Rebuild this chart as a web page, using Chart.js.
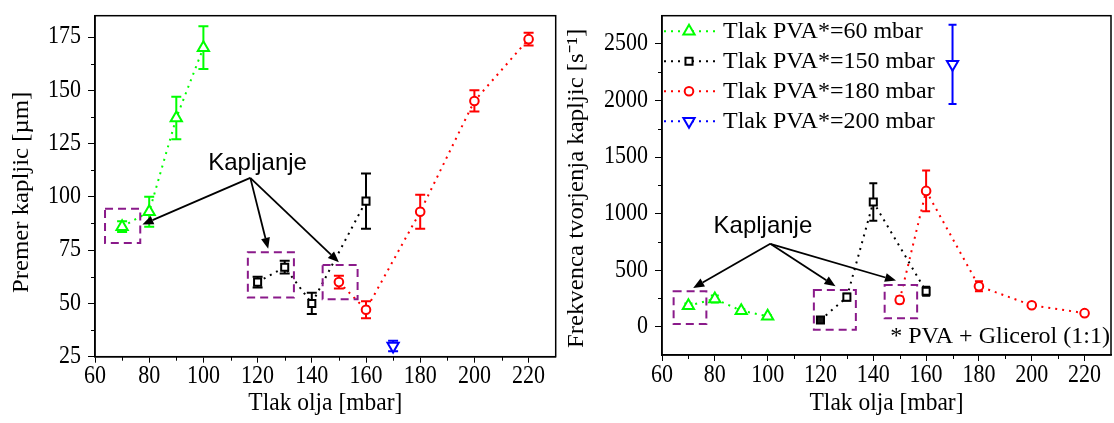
<!DOCTYPE html>
<html>
<head>
<meta charset="utf-8">
<script src="https://cdn.jsdelivr.net/npm/chart.js@4.4.1/dist/chart.umd.min.js"></script>
<style>
  html, body { margin: 0; padding: 0; background: #fff; }
  #wrap { position: relative; width: 1114px; height: 423px; overflow: hidden; }
  #diameterChart { position: absolute; left: 0; top: 0; }
  #frequencyChart { position: absolute; left: 558px; top: 0; }
</style>
</head>
<body>
<div id="wrap">
  <canvas id="diameterChart" width="558" height="423"></canvas>
  <canvas id="frequencyChart" width="556" height="423"></canvas>
</div>
<script>
// ---- series data (oil pressure in mbar) ----
const seriesNames = ['Tlak PVA*=60 mbar', 'Tlak PVA*=150 mbar', 'Tlak PVA*=180 mbar', 'Tlak PVA*=200 mbar'];

const oilPressure60  = [70, 80, 90, 100];
const oilPressure150 = [120, 130, 140, 160];
const oilPressure180 = [150, 160, 180, 200, 220];
const oilPressure200 = [170];

// droplet diameter [µm] and its spread
const diameter60     = [86, 93, 137, 170];
const diameterErr60  = [2.5, 7, 10, 10];
const diameter150    = [60, 67, 50, 98];
const diameterErr150 = [2.5, 3, 5, 13];
const diameter180    = [60, 47, 93, 145, 174];
const diameterErr180 = [3, 4, 8, 5, 3];
const diameter200    = [30];
const diameterErr200 = [2.5];

// droplet formation frequency [1/s] and its spread
const frequency60     = [185, 245, 142, 92];
const frequencyErr60  = [20, 30, 15, 12];
const frequency150    = [59, 262, 1103, 313];
const frequencyErr150 = [15, 30, 165, 40];
const frequency180    = [237, 1201, 358, 190, 120];
const frequencyErr180 = [30, 180, 45, 15, 12];
const frequency200    = [2320];
const frequencyErr200 = [350];

// axis tick values
const pressureTicks  = [60, 80, 100, 120, 140, 160, 180, 200, 220];
const diameterTicks  = [25, 50, 75, 100, 125, 150, 175];
const frequencyTicks = [0, 500, 1000, 1500, 2000, 2500];

// ---- styling ----
const SERIF = "'Liberation Serif', 'Times New Roman', serif";
const SANS = "'Liberation Sans', Arial, sans-serif";
const seriesStyle = [
  { color: '#00ff00', pointStyle: 'triangle', radius: 6.5, rotation: 0 },
  { color: '#000000', pointStyle: 'rect', radius: 5, rotation: 0 },
  { color: '#ff0000', pointStyle: 'circle', radius: 4.3, rotation: 0 },
  { color: '#0000ff', pointStyle: 'triangle', radius: 6.5, rotation: 180 }
];
const LINE_DASH = [2, 5];
const BOX_COLOR = '#8a1a8a';
const AXIS_TEXT_STRETCH = 1.1;   // axis lettering is drawn slightly taller than wide

const xs = [oilPressure60, oilPressure150, oilPressure180, oilPressure200];

function buildDatasets(ys, errs, filledPoint) {
  return xs.map((xv, i) => {
    const st = seriesStyle[i];
    return {
      label: seriesNames[i],
      data: xv.map((x, j) => ({ x: x, y: ys[i][j] })),
      errors: errs[i],
      showLine: true,
      borderColor: st.color,
      borderWidth: 2,
      borderDash: LINE_DASH,
      backgroundColor: '#ffffff',
      pointStyle: st.pointStyle,
      pointRadius: st.radius,
      pointRotation: st.rotation,
      pointBorderColor: st.color,
      pointBorderWidth: 2,
      pointBackgroundColor: ctx => (filledPoint && filledPoint[0] === i && filledPoint[1] === ctx.dataIndex) ? '#1a1a1a' : '#ffffff',
      tension: 0,
      fill: false
    };
  });
}

// axis tick labels and titles get a vertical stretch while the scales draw
const axisLettering = {
  id: 'axisLettering',
  beforeDraw(chart, args, o) {
    const ctx = chart.ctx;
    const s = o.factor || 1;
    if (ctx._plainFillText) return;
    ctx._plainFillText = ctx.fillText;
    ctx.fillText = function (text, x, y, maxWidth) {
      const m = this.getTransform();
      const px = m.a * x + m.c * y + m.e;
      const py = m.b * x + m.d * y + m.f;
      this.save();
      this.setTransform(m.a, m.b * s, m.c, m.d * s, px, py);
      if (maxWidth === undefined) this._plainFillText(text, 0, 0);
      else this._plainFillText(text, 0, 0, maxWidth);
      this.restore();
    };
  },
  beforeDatasetsDraw(chart) {
    const ctx = chart.ctx;
    if (ctx._plainFillText) {
      ctx.fillText = ctx._plainFillText;
      delete ctx._plainFillText;
    }
  }
};

// vertical error bars, drawn beneath the markers
const errorBars = {
  id: 'errorBars',
  beforeDatasetsDraw(chart, args, opts) {
    const { ctx } = chart;
    const x = chart.scales.x, y = chart.scales.y;
    const cap = opts.cap || 4.5;
    ctx.save();
    chart.data.datasets.forEach(ds => {
      ctx.strokeStyle = ds.borderColor;
      ctx.lineWidth = 2;
      ctx.setLineDash([]);
      ds.data.forEach((p, j) => {
        const e = ds.errors[j];
        const px = x.getPixelForValue(p.x);
        const t = y.getPixelForValue(p.y + e);
        const b = y.getPixelForValue(p.y - e);
        ctx.beginPath();
        ctx.moveTo(px, t); ctx.lineTo(px, b);
        ctx.moveTo(px - cap, t); ctx.lineTo(px + cap, t);
        ctx.moveTo(px - cap, b); ctx.lineTo(px + cap, b);
        ctx.stroke();
      });
    });
    ctx.restore();
  }
};

function minorValues(major, min, max) {
  const step = major[1] - major[0];
  const out = [];
  for (let v = major[0] - step / 2; v < max - 1e-9; v += step) {
    if (v > min + 1e-9) out.push(v);
  }
  return out;
}

// box around the plot area plus minor tick marks
const frame = {
  id: 'frame',
  afterDraw(chart, args, opts) {
    const { ctx, chartArea: a } = chart;
    const x = chart.scales.x, y = chart.scales.y;
    ctx.save();
    ctx.strokeStyle = '#000';
    ctx.lineWidth = 1;
    ctx.beginPath();
    minorValues(opts.xMajor, x.min, x.max).forEach(v => {
      const px = Math.round(x.getPixelForValue(v)) + 0.5;
      ctx.moveTo(px, a.bottom); ctx.lineTo(px, a.bottom + 4);
    });
    minorValues(opts.yMajor, y.min, y.max).forEach(v => {
      const py = Math.round(y.getPixelForValue(v)) + 0.5;
      ctx.moveTo(a.left, py); ctx.lineTo(a.left - 4, py);
    });
    ctx.stroke();
    ctx.lineWidth = 1.5;
    ctx.strokeRect(a.left, a.top, a.right - a.left, a.bottom - a.top);
    ctx.restore();
  }
};

function drawArrow(ctx, x0, y0, x1, y1) {
  const ang = Math.atan2(y1 - y0, x1 - x0);
  const len = 11, half = 4.5;
  const bx = x1 - Math.cos(ang) * len, by = y1 - Math.sin(ang) * len;
  ctx.beginPath();
  ctx.moveTo(x0, y0);
  ctx.lineTo(bx, by);
  ctx.stroke();
  ctx.beginPath();
  ctx.moveTo(x1, y1);
  ctx.lineTo(bx + Math.sin(ang) * half, by - Math.cos(ang) * half);
  ctx.lineTo(bx - Math.sin(ang) * half, by + Math.cos(ang) * half);
  ctx.closePath();
  ctx.fill();
}

// dashed boxes, arrows and text notes placed in data coordinates
const annotate = {
  id: 'annotate',
  afterDatasetsDraw(chart, args, o) {
    const { ctx } = chart;
    const X = v => chart.scales.x.getPixelForValue(v);
    const Y = v => chart.scales.y.getPixelForValue(v);
    ctx.save();
    ctx.strokeStyle = BOX_COLOR;
    ctx.lineWidth = 2;
    ctx.setLineDash([8, 5]);
    (o.boxes || []).forEach(b => {
      ctx.strokeRect(X(b[0]), Y(b[1]), X(b[2]) - X(b[0]), Y(b[3]) - Y(b[1]));
    });
    ctx.setLineDash([]);
    ctx.strokeStyle = '#000';
    ctx.fillStyle = '#000';
    ctx.lineWidth = 1.8;
    (o.tips || []).forEach(t => drawArrow(ctx, X(o.origin[0]), Y(o.origin[1]), X(t[0]), Y(t[1])));
    (o.texts || []).forEach(t => {
      ctx.font = t.font;
      ctx.textAlign = t.align || 'center';
      ctx.textBaseline = 'middle';
      ctx.fillStyle = '#000';
      ctx.fillText(t.text, X(t.at[0]), Y(t.at[1]));
    });
    ctx.restore();
  }
};

// series key in the upper-left corner of the plot
const seriesKey = {
  id: 'seriesKey',
  afterDraw(chart, args, o) {
    if (!o.show) return;
    const { ctx, chartArea: a } = chart;
    ctx.save();
    chart.data.datasets.forEach((ds, i) => {
      const yy = a.top + 15.5 + i * 30;
      ctx.strokeStyle = ds.borderColor;
      ctx.lineWidth = 2;
      ctx.setLineDash(LINE_DASH);
      ctx.beginPath();
      ctx.moveTo(a.left + 2, yy);
      ctx.lineTo(a.left + 56, yy);
      ctx.stroke();
      ctx.setLineDash([]);
      ctx.fillStyle = '#ffffff';
      ctx.strokeStyle = ds.borderColor;
      Chart.helpers.drawPoint(ctx, {
        pointStyle: ds.pointStyle, rotation: ds.pointRotation,
        radius: ds.pointRadius, borderWidth: 2
      }, a.left + 27, yy);
      ctx.fillStyle = '#000';
      ctx.font = '24px ' + SERIF;
      ctx.textAlign = 'left';
      ctx.textBaseline = 'middle';
      ctx.fillText(ds.label, a.left + 61, yy + 1);
    });
    ctx.restore();
  }
};

function makeChart(canvas, cfg) {
  const chart = new Chart(canvas, {
    type: 'scatter',
    data: { datasets: buildDatasets(cfg.ys, cfg.errs, cfg.filledPoint) },
    options: {
      responsive: false,
      animation: false,
      devicePixelRatio: 1,
      layout: { autoPadding: false, padding: { left: 0, right: 0, top: 0, bottom: 0 } },
      plugins: {
        legend: { display: false },
        tooltip: { enabled: false },
        axisLettering: { factor: AXIS_TEXT_STRETCH },
        errorBars: { cap: cfg.cap },
        frame: { xMajor: pressureTicks, yMajor: cfg.yTicks },
        annotate: cfg.notes,
        seriesKey: { show: cfg.key }
      },
      scales: {
        x: {
          type: 'linear',
          min: 60, max: 230,
          afterBuildTicks: s => { s.ticks = pressureTicks.map(v => ({ value: v })); },
          afterFit: s => { s.height = cfg.xHeight; s.paddingLeft = 0; s.paddingRight = 0; },
          ticks: { font: { family: SERIF, size: 22 }, color: '#000', padding: 1, autoSkip: false, maxRotation: 0,
                   callback: v => String(v) },
          grid: { drawOnChartArea: false, drawTicks: true, tickLength: 6, tickColor: '#000', tickWidth: 1 },
          border: { display: true, color: '#000', width: 1.5 },
          title: { display: true, text: 'Tlak olja [mbar]', color: '#000', font: { family: SERIF, size: 23.5 }, padding: { top: 0, bottom: 6 } }
        },
        y: {
          type: 'linear',
          min: cfg.yMin, max: cfg.yMax,
          afterBuildTicks: s => { s.ticks = cfg.yTicks.map(v => ({ value: v })); },
          afterFit: s => { s.width = cfg.yWidth; s.paddingTop = 0; s.paddingBottom = 0; },
          ticks: { font: { family: SERIF, size: 22 }, color: '#000', padding: 7, autoSkip: false,
                   callback: v => String(v) },
          grid: { drawOnChartArea: false, drawTicks: true, tickLength: 7, tickColor: '#000', tickWidth: 1 },
          border: { display: true, color: '#000', width: 1.5 },
          title: { display: true, text: cfg.yTitle, color: '#000', font: { family: SERIF, size: 22.5 }, padding: { top: cfg.yTitlePad, bottom: 0 } }
        }
      }
    },
    plugins: [axisLettering, errorBars, frame, annotate, seriesKey]
  });
  // settle the plot area on its intended edges
  const t = cfg.area;
  const pad = { left: 0, right: 0, top: 0, bottom: 0 };
  for (let k = 0; k < 5; k++) {
    const a = chart.chartArea;
    pad.top += t.top - a.top;
    pad.bottom += a.bottom - t.bottom;
    pad.right += a.right - t.right;
    chart.config.options.layout.padding = { left: pad.left, right: pad.right, top: pad.top, bottom: pad.bottom };
    chart.update();
  }
  return chart;
}

// left: droplet diameter
makeChart(document.getElementById('diameterChart'), {
  ys: [diameter60, diameter150, diameter180, diameter200],
  errs: [diameterErr60, diameterErr150, diameterErr180, diameterErr200],
  yMin: 25, yMax: 185, yTicks: diameterTicks,
  yTitle: 'Premer kapljic [µm]  ', yTitlePad: 8.8,
  area: { top: 15.7, bottom: 356.7, right: 555.7 },
  xHeight: 66.3, yWidth: 95, cap: 5, key: false,
  notes: {
    boxes: [[63.7, 94.4, 76.7, 78.3], [116.4, 74.0, 133.4, 52.8], [144.0, 68.0, 156.9, 52.0]],
    origin: [117.3, 108.9],
    tips: [[77.5, 87.0], [123.9, 75.6], [150.0, 69.3]],
    texts: [{ text: 'Kapljanje', at: [120, 115.6], font: '24px ' + SANS }]
  }
});

// right: droplet formation frequency
makeChart(document.getElementById('frequencyChart'), {
  ys: [frequency60, frequency150, frequency180, frequency200],
  errs: [frequencyErr60, frequencyErr150, frequencyErr180, frequencyErr200],
  yMin: -250, yMax: 2750, yTicks: frequencyTicks,
  yTitle: 'Frekvenca tvorjenja kapljic [s⁻¹] ', yTitlePad: 5.8,
  area: { top: 15.7, bottom: 355, right: 553 },
  xHeight: 68, yWidth: 104, cap: 4, key: true,
  filledPoint: [1, 0],
  notes: {
    boxes: [[64.4, 313, 76.8, 24], [117.5, 325, 133.4, -27], [144.3, 369, 156.6, 74]],
    origin: [101.0, 733],
    tips: [[71.8, 343], [125.7, 358], [148.6, 408]],
    texts: [
      { text: 'Kapljanje', at: [98.2, 887], font: '24px ' + SANS },
      { text: '* PVA + Glicerol (1:1)', at: [229.6, -92], font: '24px ' + SERIF, align: 'right' }
    ]
  }
});
</script>
</body>
</html>
